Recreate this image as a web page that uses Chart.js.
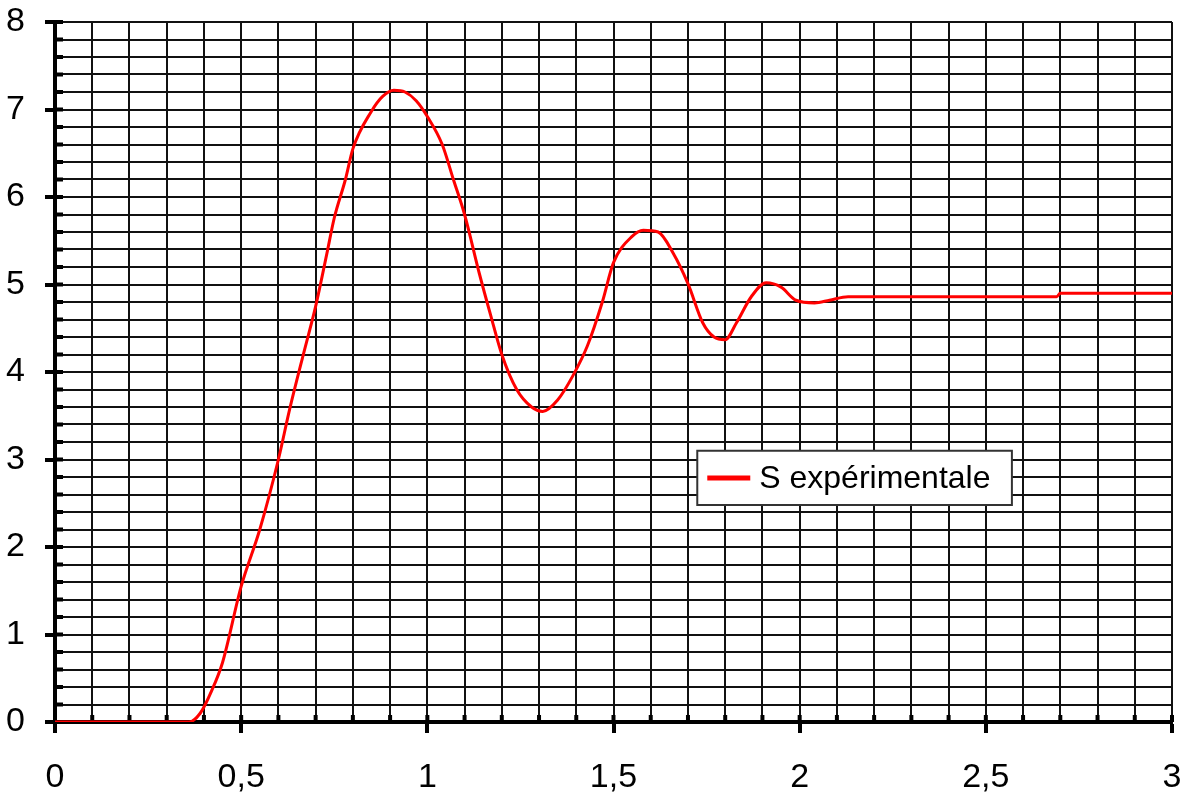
<!DOCTYPE html>
<html>
<head>
<meta charset="utf-8">
<title>S expérimentale</title>
<script src="https://cdn.jsdelivr.net/npm/chart.js@4.4.0/dist/chart.umd.min.js"></script>
<style>
    html, body { margin: 0; padding: 0; background: #fff; }
    #wrap { position: relative; width: 1187px; height: 805px; }
</style>
</head>
<body>
<div id="wrap"><canvas id="chart"></canvas></div>
<script>
// Data (time in s, response value)
const timeValues = [0, 0.36, 0.39, 0.42, 0.45, 0.50, 0.55, 0.60, 0.63, 0.67, 0.70, 0.73, 0.75, 0.78, 0.80,
    0.85, 0.88, 0.91, 0.94, 0.97, 1.00, 1.04, 1.07, 1.10, 1.14, 1.17, 1.20, 1.24, 1.28, 1.31, 1.35,
    1.39, 1.43, 1.47, 1.50, 1.55, 1.58, 1.62, 1.66, 1.70, 1.74, 1.77, 1.80, 1.83, 1.87, 1.91, 1.95,
    1.99, 2.04, 2.08, 2.13, 2.69, 2.70, 3.00];
const signalValues = [0, 0, 0.1, 0.35, 0.68, 1.55, 2.2, 3.0, 3.57, 4.25, 4.75, 5.35, 5.76, 6.2, 6.55,
    6.98, 7.15, 7.22, 7.2, 7.1, 6.92, 6.6, 6.2, 5.8, 5.12, 4.65, 4.2, 3.8, 3.6, 3.55, 3.68,
    3.95, 4.3, 4.8, 5.25, 5.55, 5.62, 5.6, 5.36, 5.01, 4.56, 4.4, 4.37, 4.56, 4.86, 5.02, 4.97,
    4.82, 4.79, 4.82, 4.86, 4.86, 4.9, 4.9];
const seriesLabel = 'S expérimentale';

// Axis setup
const xRange = [0, 3];
const yRange = [0, 8];
const xGridStep = 0.1;
const yGridStep = 0.2;
const xLabelStep = 0.5;
const yLabelStep = 1;

const colors = {
    red: '#ff0000',
    grid: '#111',
    text: '#000'
};

const fontFamily = "'Liberation Sans', Arial, sans-serif";

const isMultiple = function(value, step) {
    let r = value / step;
    return Math.abs(r - Math.round(r)) < 1e-6;
};

const formatNumber = function(value) {
    return (Math.round(value * 10) / 10).toString().replace('.', ',');
};

let points = timeValues.map((t, i) => ({x: t, y: signalValues[i]}));

// Small inside tick stubs along both axes
const axisStubs = {
    id: 'axisStubs',
    beforeDatasetsDraw(chart) {
        let ctx = chart.ctx;
        let area = chart.chartArea;
        let xs = chart.scales.x;
        let ys = chart.scales.y;
        ctx.save();
        ctx.strokeStyle = '#000';
        ctx.lineWidth = 4;
        xs.ticks.forEach(t => {
            let px = xs.getPixelForValue(t.value);
            ctx.beginPath();
            ctx.moveTo(px, area.bottom);
            ctx.lineTo(px, area.bottom - 7);
            ctx.stroke();
        });
        ys.ticks.forEach(t => {
            let py = ys.getPixelForValue(t.value);
            ctx.beginPath();
            ctx.moveTo(area.left, py);
            ctx.lineTo(area.left + 8, py);
            ctx.stroke();
        });
        ctx.restore();
    }
};

// Legend box drawn inside the plot
const boxLegend = {
    id: 'boxLegend',
    afterDraw(chart) {
        let ctx = chart.ctx;
        let xs = chart.scales.x;
        let ys = chart.scales.y;
        let ds = chart.data.datasets[0];
        let left = xs.getPixelForValue(1.725);
        let right = xs.getPixelForValue(2.57);
        let top = ys.getPixelForValue(3.1);
        let bottom = ys.getPixelForValue(2.48);
        let mid = (top + bottom) / 2;
        ctx.save();
        ctx.fillStyle = '#fff';
        ctx.fillRect(left, top, right - left, bottom - top);
        ctx.strokeStyle = '#333';
        ctx.lineWidth = 2;
        ctx.strokeRect(left, top, right - left, bottom - top);
        ctx.strokeStyle = ds.borderColor;
        ctx.lineWidth = 5;
        ctx.beginPath();
        ctx.moveTo(left + 10, mid);
        ctx.lineTo(left + 53, mid);
        ctx.stroke();
        ctx.fillStyle = colors.text;
        ctx.font = '32px ' + fontFamily;
        ctx.textBaseline = 'middle';
        ctx.fillText(ds.label, left + 62, mid + 1);
        ctx.restore();
    }
};

document.addEventListener('DOMContentLoaded', function() {
    let chartDom = document.getElementById('chart').getContext('2d');
    new Chart(chartDom, {
        type: 'scatter',
        data: {
            datasets: [{
                label: seriesLabel,
                data: points,
                showLine: true,
                borderColor: colors.red,
                backgroundColor: colors.red,
                borderWidth: 3,
                pointRadius: 0,
                cubicInterpolationMode: 'monotone'
            }]
        },
        plugins: [axisStubs, boxLegend],
        options: {
            responsive: true,
            maintainAspectRatio: false,
            animation: false,
            layout: {
                padding: {top: 22, right: 15, left: 0, bottom: 0}
            },
            plugins: {
                legend: {display: false},
                tooltip: {enabled: false}
            },
            scales: {
                x: {
                    type: 'linear',
                    min: xRange[0],
                    max: xRange[1],
                    afterFit: function(scale) {
                        scale.height = 83;
                        scale.paddingLeft = 0;
                        scale.paddingRight = 0;
                    },
                    border: {color: '#000', width: 4},
                    grid: {
                        color: colors.grid,
                        lineWidth: 2,
                        tickLength: 11,
                        tickWidth: 4,
                        tickColor: ctx => isMultiple(ctx.tick.value, xLabelStep) ? '#000' : 'rgba(0,0,0,0)'
                    },
                    ticks: {
                        stepSize: xGridStep,
                        autoSkip: false,
                        maxRotation: 0,
                        padding: 24,
                        color: colors.text,
                        font: {family: fontFamily, size: 34},
                        callback: v => isMultiple(v, xLabelStep) ? formatNumber(v) : ''
                    }
                },
                y: {
                    type: 'linear',
                    min: yRange[0],
                    max: yRange[1],
                    afterFit: function(scale) {
                        scale.width = 55;
                        scale.paddingTop = 0;
                        scale.paddingBottom = 0;
                    },
                    border: {color: '#000', width: 4},
                    grid: {
                        color: colors.grid,
                        lineWidth: 2,
                        tickLength: 10,
                        tickWidth: 4,
                        tickColor: ctx => isMultiple(ctx.tick.value, yLabelStep) ? '#000' : 'rgba(0,0,0,0)'
                    },
                    ticks: {
                        stepSize: yGridStep,
                        autoSkip: false,
                        padding: 20,
                        color: colors.text,
                        font: {family: fontFamily, size: 34},
                        callback: v => isMultiple(v, yLabelStep) ? formatNumber(v) : ''
                    }
                }
            }
        }
    });
});
</script>
</body>
</html>
